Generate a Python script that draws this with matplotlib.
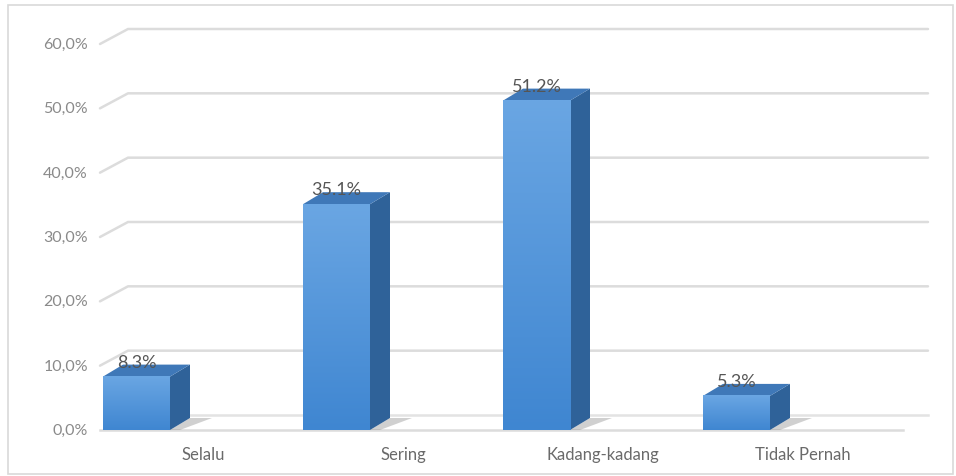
import numpy as np
import matplotlib
matplotlib.use("Agg")
import matplotlib.pyplot as plt
from matplotlib.patches import Polygon, Rectangle
from matplotlib.colors import LinearSegmentedColormap

# Data
categories = ["Selalu", "Sering", "Kadang-kadang", "Tidak Pernah"]
values = [8.3, 35.1, 51.2, 5.3]          # percent
value_labels = ["8.3%", "35.1%", "51.2%", "5.3%"]
yticks = [0, 10, 20, 30, 40, 50, 60]
ytick_labels = ["0,0%", "10,0%", "20,0%", "30,0%", "40,0%", "50,0%", "60,0%"]

W, H = 956, 477
fig = plt.figure(figsize=(W / 100, H / 100), dpi=100)
plt.rcParams["font.family"] = ["Lato", "DejaVu Sans"]

# axes occupy the front plane of the 3-D box (pixel positions)
left_px, right_px, bottom_px, top_px = 103, 903, 431, 45
ax = fig.add_axes([left_px / W, 1 - bottom_px / H,
                   (right_px - left_px) / W, (bottom_px - top_px) / H])
ax.set_xlim(0, len(categories))
ax.set_ylim(0, 60)
ax.set_axis_off()

# pixel -> data unit conversions for depth offsets
px_x = len(categories) / (right_px - left_px)
px_y = 60 / (bottom_px - top_px)

wall_dx, wall_dy = 25 * px_x, 15 * px_y
bar_dx, bar_dy = 20 * px_x, 12 * px_y
bar_w = 67 * px_x

grid_col = "#dcdcdc"

# back wall gridlines with the diagonal connector on the side wall
for t in yticks:
    if t == 0:
        continue
    ax.plot([-3 * px_x, wall_dx, len(categories) + wall_dx],
            [t, t + wall_dy, t + wall_dy],
            color=grid_col, lw=1.8, clip_on=False, solid_capstyle="round", zorder=1)

# floor
ax.plot([0 - 3 * px_x, len(categories)], [0, 0], color=grid_col, lw=1.8,
        clip_on=False, zorder=1)
ax.plot([wall_dx, len(categories) + wall_dx], [wall_dy, wall_dy],
        color="#e3e3e3", lw=1.8, clip_on=False, zorder=1)

# tick labels
for t, lab in zip(yticks, ytick_labels):
    ax.text(-15 * px_x, t, lab, ha="right", va="center", fontsize=11.5,
            color="#8a8a8a", clip_on=False)

# category labels in the middle of each slot
for i, c in enumerate(categories):
    ax.text(i + 0.5, -24 * px_y, c, ha="center", va="center", fontsize=12,
            color="#6a6a6a", clip_on=False)

# bars: front face via bar(), plus side and top faces
xs = np.arange(len(categories))
bars = ax.bar(xs, values, width=bar_w, align="edge", color="#4a8ed6",
              edgecolor="none", zorder=4, clip_on=False)

cmap = LinearSegmentedColormap.from_list("front", ["#3f86d1", "#6aa6e3"])
grad = np.linspace(0, 1, 256).reshape(-1, 1)
for b, x, v, lab in zip(bars, xs, values, value_labels):
    x0, x1 = x, x + bar_w
    # soft shadow on the floor
    ax.add_patch(Polygon([(x1, 0), (x1 + bar_dx, bar_dy), (x1 + bar_dx + 22 * px_x, bar_dy),
                          (x1 + 10 * px_x, 0)], closed=True, facecolor="#7a7a7a",
                         edgecolor="none", alpha=0.35, zorder=2, clip_on=False))
    # gradient fill on front face
    im = ax.imshow(grad, extent=[x0, x1, 0, v], origin="lower", aspect="auto",
                   cmap=cmap, zorder=4.5, clip_on=False)
    im.set_clip_path(b)
    # right side face
    ax.add_patch(Polygon([(x1, 0), (x1 + bar_dx, bar_dy), (x1 + bar_dx, v + bar_dy), (x1, v)],
                         closed=True, facecolor="#2f6299", edgecolor="none",
                         zorder=3, clip_on=False))
    # top face
    ax.add_patch(Polygon([(x0, v), (x0 + bar_dx, v + bar_dy), (x1 + bar_dx, v + bar_dy), (x1, v)],
                         closed=True, facecolor="#3f78b8", edgecolor="none",
                         zorder=3, clip_on=False))
    # data label
    ax.text(x0 + bar_w / 2, v + bar_dy + 3 * px_y, lab, ha="center", va="center",
            fontsize=13, color="#555555", zorder=6, clip_on=False)

# outer chart border
fig.add_artist(Rectangle((8 / W, 1 - 475 / H), (953 - 8) / W, (475 - 6) / H,
                         transform=fig.transFigure, fill=False,
                         edgecolor="#d9d9d9", lw=1.2))

fig.savefig("out.png", dpi=100, facecolor="white")
